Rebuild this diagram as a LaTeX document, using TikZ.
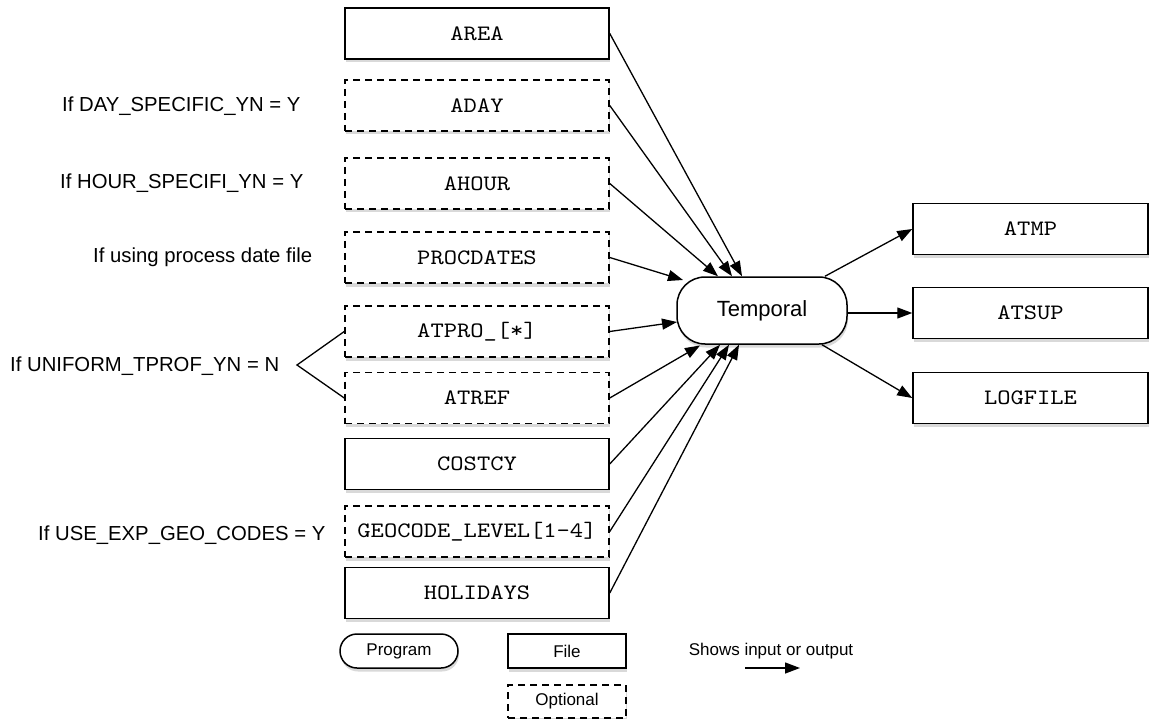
\documentclass[tikz,border=0pt]{standalone}
\usepackage{fontspec}
\setmainfont{Liberation Sans}
\newfontfamily\monofont[FakeStretch=1.15,Extension=.otf]{lmmono10-regular}
\usetikzlibrary{arrows.meta,shadows,calc}
\begin{document}
\begin{tikzpicture}[x=1pt,y=-1pt,
  shd/.style={drop shadow={opacity=0.3,shadow xshift=1pt,shadow yshift=-3.5pt}},
  filebox/.style={draw,line width=1.5pt,fill=white,minimum width=264pt,minimum height=51pt,inner sep=0pt,
    font=\monofont\fontsize{22}{24}\selectfont,shd},
  optbox/.style={filebox,dash pattern=on 7pt off 5pt},
  outbox/.style={filebox,minimum width=235pt},
  prog/.style={draw,line width=1.5pt,fill=white,rounded corners=28pt,minimum width=170pt,minimum height=67pt,
    inner sep=0pt,font=\fontsize{22}{24}\selectfont,shd},
  lbl/.style={inner sep=0pt,font=\fontsize{20.3}{23}\selectfont},
  leg/.style={draw,line width=1.5pt,fill=white,minimum width=118pt,minimum height=34pt,inner sep=0pt,
    font=\fontsize{17}{20}\selectfont,shd},
  conn/.style={line width=1.3pt,-{Triangle[length=15pt,width=11pt]}}]
\useasboundingbox (0,0) rectangle (1150,719);
% input files
\node[filebox] (area) at (477,33.5) {AREA};
\node[optbox] (aday) at (477,105.5) {ADAY};
\node[optbox] (ahour) at (477,183.5) {AHOUR};
\node[optbox] (procdates) at (477,257.5) {PROCDATES};
\node[optbox] (atpro) at (477,331.5) {ATPRO\_[*]};
\node[optbox] (atref) at (477,398) {ATREF};
\node[filebox] (costcy) at (477,464) {COSTCY};
\node[optbox] (geocode) at (477,531.5) {GEOCODE\_LEVEL[1-4]};
\node[filebox] (holidays) at (477,593) {HOLIDAYS};
% program
\node[prog] (temporal) at (762,310.5) {Temporal};
% outputs
\node[outbox] (atmp) at (1030.5,229) {ATMP};
\node[outbox] (atsup) at (1030.5,313) {ATSUP};
\node[outbox] (logfile) at (1030.5,398) {LOGFILE};
% conditions
\node[lbl,anchor=base west] (c1) at (62,112) {If DAY\_SPECIFIC\_YN = Y};
\node[lbl,anchor=base west] (c2) at (60,189) {If HOUR\_SPECIFI\_YN = Y};
\node[lbl,anchor=base west] (c3) at (93,262) {If using process date file};
\node[lbl,anchor=base west] (c4) at (10,371) {If UNIFORM\_TPROF\_YN = N};
\node[lbl,anchor=base west] (c5) at (38,540) {If USE\_EXP\_GEO\_CODES = Y};
\coordinate (brk) at (297,365);
\draw[line width=1.3pt] (atpro.west) -- (brk) -- (atref.west);
% inputs
\draw[conn] (area.east) -- ($(temporal.north)+(-20,0)$);
\draw[conn] (aday.east) -- ($(temporal.north)+(-30,0)$);
\draw[conn] (ahour.east) -- ($(temporal.north)+(-44,0)$);
\draw[conn] (procdates.east) -- ($(temporal.center)+(-79,-30.5)$);
\draw[conn] (atpro.east) -- ($(temporal.center)+(-85,11.5)$);
\draw[conn] (atref.east) -- ($(temporal.center)+(-62,35)$);
\draw[conn] (costcy.east) -- ($(temporal.south)+(-42,0)$);
\draw[conn] (geocode.east) -- ($(temporal.south)+(-33,0)$);
\draw[conn] (holidays.east) -- ($(temporal.south)+(-23,0)$);
% outputs
\draw[conn] ($(temporal.north)+(63,0)$) -- (atmp.west);
\draw[conn] (temporal.east |- atsup.west) -- (atsup.west);
\draw[conn] ($(temporal.south)+(60,0)$) -- (logfile.west);
% legend
\node[leg,rounded corners=17pt] (lprog) at (399,651) {Program};
\node[leg] (lfile) at (567,651) {File};
\node[leg,dash pattern=on 7pt off 5pt,minimum height=33pt] (lopt) at (567,701.5) {Optional};
\node[inner sep=0pt,anchor=base,font=\fontsize{17}{20}\selectfont] (lshow) at (771,655) {Shows input or output};
\coordinate (la) at (745,668);
\coordinate (lb) at (800,668);
\draw[conn] (la) -- (lb);
\end{tikzpicture}
\end{document}
